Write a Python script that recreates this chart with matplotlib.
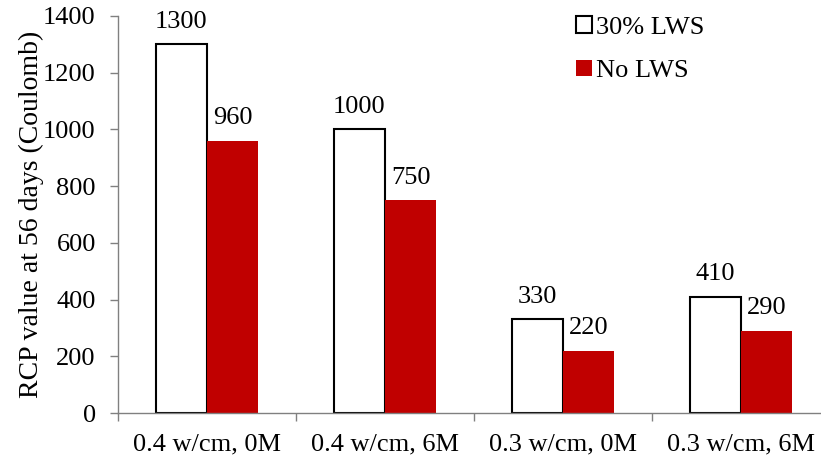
import matplotlib
matplotlib.use("Agg")
import matplotlib.pyplot as plt
import numpy as np

categories = ["0.4 w/cm, 0M", "0.4 w/cm, 6M", "0.3 w/cm, 0M", "0.3 w/cm, 6M"]
lws_30 = [1300, 1000, 330, 410]
no_lws = [960, 750, 220, 290]
series_names = ["30% LWS", "No LWS"]

FS = 19
plt.rcParams["font.family"] = ["Liberation Serif", "DejaVu Serif"]
plt.rcParams["font.size"] = FS

fig = plt.figure(figsize=(8.21, 4.59), dpi=100)
# axes extends slightly past the right edge of the canvas
ax = fig.add_axes([118 / 821, 46 / 459, 712 / 821, 397 / 459])

x = np.arange(len(categories))
w = 0.287
b1 = ax.bar(x - w / 2, lws_30, w, color="white", edgecolor="black", linewidth=1.5,
            label=series_names[0], zorder=2)
b2 = ax.bar(x + w / 2, no_lws, w, color="#C00000", edgecolor="none",
            label=series_names[1], zorder=2)

# value labels sit a fixed gap above each bar
for bars, vals in ((b1, lws_30), (b2, no_lws)):
    for rect, v in zip(bars, vals):
        ax.annotate(f"{v}", (rect.get_x() + rect.get_width() / 2, v),
                    xytext=(0, 12), textcoords="offset points",
                    ha="center", va="baseline", fontsize=FS)

ax.set_xlim(-0.5, len(categories) - 0.5)
ax.set_ylim(0, 1400)
ax.set_yticks(np.arange(0, 1401, 200))
ax.set_xticks(x)
ax.set_xticklabels(categories)
ax.set_xticks(np.arange(-0.5, len(categories), 1.0), minor=True)
ax.tick_params(axis="x", which="major", length=0, pad=15)
ax.tick_params(axis="x", which="minor", length=6, color="#808080", width=1)
ax.tick_params(axis="y", length=6, color="#808080", width=1, pad=10)

for s in ["top", "right"]:
    ax.spines[s].set_visible(False)
for s in ["left", "bottom"]:
    ax.spines[s].set_color("#808080")
    ax.spines[s].set_linewidth(1)

ax.set_ylabel("RCP value at 56 days (Coulomb)", fontsize=20, labelpad=-1)

ax.legend(loc="upper left", bbox_to_anchor=(0.61, 1.06), frameon=False,
          handlelength=0.6, handleheight=0.6, handletextpad=0.15,
          labelspacing=0.8, fontsize=FS)

fig.savefig("out.png", dpi=100)
